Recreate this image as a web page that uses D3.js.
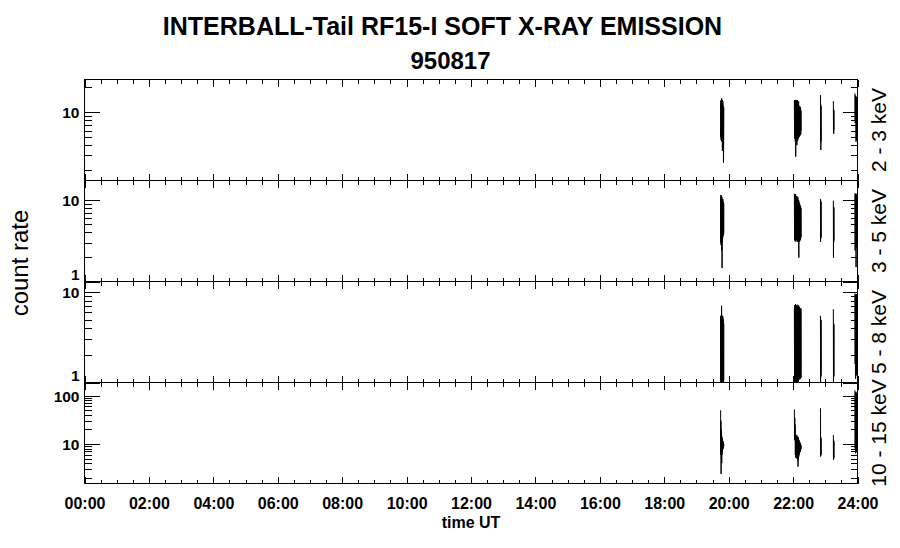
<!DOCTYPE html>
<html><head><meta charset="utf-8">
<script src="https://cdn.jsdelivr.net/npm/d3@7"></script>
<style>html,body{margin:0;padding:0;background:#fff;} svg{display:block;}</style>
</head><body>
<svg id="chart" width="900" height="548"></svg>
<script>
// ---- data (time in hours UT; null = data gap) ----
const times = [
  19.750,19.755,19.760,19.765,19.770,19.775,19.780,19.785,19.790,19.795,19.800,19.805,19.810,19.815,19.820,19.825,19.830,19.835,19.840,19.845,19.850,
  null,
  22.040,22.046,22.052,22.058,22.064,22.070,22.076,22.082,22.088,22.094,22.100,22.106,22.112,22.118,22.124,22.130,22.136,22.142,
  22.148,22.154,22.160,22.166,22.172,22.178,22.184,22.190,22.196,22.202,22.208,22.214,22.220,22.226,22.232,22.238,22.244,22.250,
  null,
  22.850,22.854,22.858,22.862,22.866,22.870,
  null,
  23.250,23.254,23.258,23.262,23.266,23.270,
  null,
  23.920,23.927,23.934,23.941,23.948,23.955,23.962,23.969,23.976,23.983,23.990,23.997
];
const rate_2_3 = [
  12.5,5.0,14.0,4.6,13.5,5.2,14.8,4.4,13.0,4.8,14.2,3.4,12.8,4.5,13.6,5.0,12.0,4.4,2.45,4.6,11.5,
  null,
  13.5,4.8,14.1,5.0,13.8,4.4,14.0,2.9,13.2,5.2,14.1,4.6,12.8,4.0,13.5,5.0,14.0,4.5,
  13.0,5.3,12.5,4.8,13.6,5.6,12.0,5.0,11.2,5.5,11.8,5.2,10.8,5.8,11.5,5.4,10.5,6.0,
  null,
  16.2,4.4,12.5,3.5,12.0,4.5,
  null,
  13.7,6.1,10.9,5.5,10.5,6.2,
  null,
  17,7.4,16,7.8,15,4.4,14.5,5,15.5,4.6,14,4.8
];
const rate_3_5 = [
  11.0,3.0,11.5,2.8,10.5,3.2,11.2,2.4,10.8,1.46,10.0,3.0,9.8,3.4,10.2,3.6,9.5,3.8,9.2,3.9,9.0,
  null,
  11.9,3.2,11.5,3.5,11.0,3.1,11.8,3.3,10.8,3.6,11.2,3.2,10.5,3.4,11.0,3.05,10.2,3.5,
  10.8,3.2,9.8,3.1,10.0,1.96,9.5,3.1,9.0,3.05,8.8,3.3,8.5,3.2,8.3,3.4,8.0,3.5,
  null,
  10.3,3.05,9.8,3.5,9.5,3.4,
  null,
  9.8,1.96,8.3,3.05,8.0,3.2,
  null,
  12,2.4,11.5,3,12,1.5,11,2.8,11.8,2.6,11.2,2.5
];
const rate_5_8 = [
  5.5,1.0,5.4,1.0,5.5,1.02,7.1,1.0,5.3,1.0,5.5,1.01,5.2,1.0,5.4,1.0,5.0,1.02,4.8,1.05,4.5,
  null,
  6.8,1.0,7.2,1.0,6.5,1.02,7.4,1.0,6.9,1.0,7.1,1.01,6.6,1.0,7.3,1.0,6.7,1.02,
  7.0,1.0,6.8,1.05,7.2,1.1,6.6,1.08,6.9,1.1,6.5,1.12,6.7,1.1,6.4,1.15,6.6,1.12,
  null,
  5.5,1.0,5.0,1.16,4.9,1.2,
  null,
  6.5,1.0,4.5,1.15,4.4,1.2,
  null,
  9.7,1.6,9.5,1.1,9.2,1.5,9.6,1.2,9.0,1.4,9.4,1.3
];
const rate_10_15 = [
  50,6,30,2.4,20,5,16,4,14,6,13,7,12,7.5,11.5,8,11,8.5,10.5,9,10,
  null,
  52,12,35,15,25,6,16,5.2,15,6,14,5.5,15.4,5,14.5,6.5,13,4.6,
  14,3.4,13.5,5,12.5,5.5,12,6,11.5,6.5,11,7,10.5,6.8,10,7.5,9.5,8,
  null,
  55,5.5,14,6,13,5.8,
  null,
  15.4,4.7,12,5,11.5,5.2,
  null,
  130,8,110,6.4,120,7,100,6.8,115,7.5,105,6.5
];
const panelLabels = ["2 - 3 keV", "3 - 5 keV", "5 - 8 keV", "10 - 15 keV"];
const panelSeries = [rate_2_3, rate_3_5, rate_5_8, rate_10_15];
const panelDomains = [[1.49, 25.0], [1, 17.3], [1, 13.2], [1.52, 187.6]];
const panelMajorTicks = [[10], [1, 10], [1, 10], [10, 100]];
const xMajorTicks = [0, 2, 4, 6, 8, 10, 12, 14, 16, 18, 20, 22, 24];
const xTickLabels = ["00:00","02:00","04:00","06:00","08:00","10:00","12:00","14:00","16:00","18:00","20:00","22:00","24:00"];
const xMinorTicks = [0.5,1,1.5,2.5,3,3.5,4.5,5,5.5,6.5,7,7.5,8.5,9,9.5,10.5,11,11.5,12.5,13,13.5,14.5,15,15.5,16.5,17,17.5,18.5,19,19.5,20.5,21,21.5,22.5,23,23.5];
const titleLines = ["INTERBALL-Tail RF15-I SOFT X-RAY EMISSION", "950817"];

// ---- layout ----
const L = 84.5, R = 857.5, T = 79.5, PH = 101;
const FONT = "'Liberation Sans', Arial, Helvetica, sans-serif";
const svg = d3.select("#chart");
const x = d3.scaleLinear().domain([0, 24]).range([L, R]);

svg.append("text").attr("x", 442.5).attr("y", 35).attr("text-anchor", "middle")
  .attr("font-family", FONT).attr("font-weight", "bold").attr("font-size", 25).text(titleLines[0]);
svg.append("text").attr("x", 450.5).attr("y", 69).attr("text-anchor", "middle")
  .attr("font-family", FONT).attr("font-weight", "bold").attr("font-size", 24).text(titleLines[1]);

const points = times.map((t, i) => ({t, i}));

panelSeries.forEach((series, p) => {
  const top = T + p * PH, bot = top + PH;
  const y = d3.scaleLog().domain(panelDomains[p]).range([bot, top]);
  const g = svg.append("g");

  const clipId = "clip" + p;
  svg.append("clipPath").attr("id", clipId).append("rect")
    .attr("x", L).attr("y", top).attr("width", R - L).attr("height", PH);

  const line = d3.line()
    .defined(d => d.t != null && series[d.i] != null)
    .x(d => x(d.t)).y(d => y(series[d.i]));
  g.append("path").datum(points).attr("d", line)
    .attr("fill", "none").attr("stroke", "#000").attr("stroke-width", 1)
    .attr("clip-path", `url(#${clipId})`);

  const majors = panelMajorTicks[p];
  const minors = y.ticks().filter(v => !majors.some(m => Math.abs(m - v) < 1e-9)
    && v >= panelDomains[p][0] && v <= panelDomains[p][1]);

  const style = sel => {
    sel.select(".domain").remove();
    sel.selectAll("line").attr("stroke", "#000").attr("shape-rendering", "crispEdges");
  };
  // left axis
  const la = g.append("g").attr("transform", `translate(${L},0)`)
    .call(d3.axisLeft(y).tickValues(majors).tickSize(-15).tickPadding(5).tickFormat(d3.format("d")));
  style(la);
  la.selectAll("text").attr("font-family", FONT).attr("font-weight", "bold").attr("font-size", 15.5).attr("fill", "#000")
    .attr("dy", d => Math.abs(d - panelDomains[p][0]) < 1e-9 ? "-0.1em" : "0.36em");
  g.append("g").attr("transform", `translate(${L},0)`)
    .call(d3.axisLeft(y).tickValues(minors).tickSize(-7).tickFormat(""))
    .call(style);
  // right axis
  g.append("g").attr("transform", `translate(${R},0)`)
    .call(d3.axisRight(y).tickValues(majors).tickSize(-15).tickFormat("")).call(style);
  g.append("g").attr("transform", `translate(${R},0)`)
    .call(d3.axisRight(y).tickValues(minors).tickSize(-7).tickFormat("")).call(style);
  // top axis
  g.append("g").attr("transform", `translate(0,${top})`)
    .call(d3.axisTop(x).tickValues(xMajorTicks).tickSize(-7).tickFormat("")).call(style);
  g.append("g").attr("transform", `translate(0,${top})`)
    .call(d3.axisTop(x).tickValues(xMinorTicks).tickSize(-4).tickFormat("")).call(style);
  // bottom axis
  const ba = g.append("g").attr("transform", `translate(0,${bot})`)
    .call(d3.axisBottom(x).tickValues(xMajorTicks).tickSize(-7).tickPadding(14)
      .tickFormat((d, i) => p === 3 ? xTickLabels[i] : ""));
  style(ba);
  ba.selectAll("text").attr("font-family", FONT).attr("font-weight", "bold").attr("font-size", 16).attr("fill", "#000");
  g.append("g").attr("transform", `translate(0,${bot})`)
    .call(d3.axisBottom(x).tickValues(xMinorTicks).tickSize(-4).tickFormat("")).call(style);

  // frame
  g.append("rect").attr("x", L).attr("y", top).attr("width", R - L).attr("height", PH)
    .attr("fill", "none").attr("stroke", "#000").attr("shape-rendering", "crispEdges");

  // panel label on the right
  const cy = top + PH / 2;
  svg.append("text").attr("transform", `translate(886,${cy}) rotate(-90)`)
    .attr("text-anchor", "middle").attr("font-family", FONT).attr("font-size", 21).text(panelLabels[p]);
});

svg.append("text").attr("transform", `translate(28,263) rotate(-90)`)
  .attr("text-anchor", "middle").attr("font-family", FONT).attr("font-size", 24).text("count rate");
svg.append("text").attr("x", (L + R) / 2).attr("y", 528).attr("text-anchor", "middle")
  .attr("font-family", FONT).attr("font-weight", "bold").attr("font-size", 16).text("time UT");
</script>
</body></html>
